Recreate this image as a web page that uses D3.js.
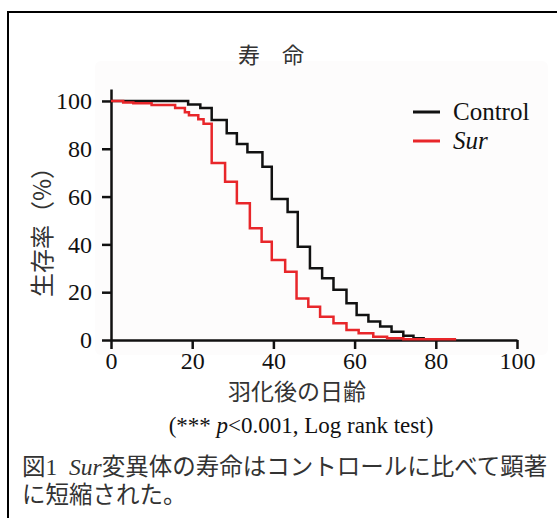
<!DOCTYPE html>
<head>
  <meta charset="utf-8">
  <script src="https://d3js.org/d3.v7.min.js"></script>
  <style>
    body { margin: 0; background: #fff; }
    svg { display: block; }
  </style>
</head>
<body>
  <svg width="557" height="518"></svg>
  <script>
    // Kaplan-Meier steps (day, % alive after the step)
    var controlDays = [0, 19, 22, 24.8, 28.5, 31, 33.6, 37.3, 39.6, 43.5, 46, 49, 52, 54.8, 58, 60.5, 63.4, 66.3, 69.1, 72, 74.5, 77];
    var controlSurv = [100, 98.5, 97, 92, 86.5, 82, 78.5, 72.5, 59, 53.5, 39, 30, 25.8, 21, 15.4, 10.5, 7.7, 5.6, 3.5, 1.8, 0.7, 0];
    var surDays = [0, 3, 5.5, 10, 15.8, 18.2, 19.2, 21.5, 22.8, 24.8, 28.1, 31, 34.2, 37.1, 39.6, 42.9, 45.7, 48.6, 51.5, 54.8, 58, 61, 64.6, 68, 72, 85];
    var surSurv = [100, 99.4, 99, 98.3, 97, 95.3, 94, 92.3, 90.5, 74, 66.2, 57.2, 46.7, 41.1, 33.5, 28.6, 17.4, 13.9, 9.7, 7, 4.2, 2.8, 1.4, 0.7, 0.3, 0.3];

    var xTicks = [0, 20, 40, 60, 80, 100];
    var yTicks = [0, 20, 40, 60, 80, 100];
    var seriesNames = ["Control", "Sur"];
    var seriesColors = ["#111", "#e8262a"];

    var svg = d3.select("svg");
    var serif = "'Liberation Serif', 'Noto Sans CJK JP', serif";
    var cjk = "'Noto Sans CJK JP', sans-serif";

    // outer frame (runs off the right and bottom)
    svg.append("rect")
      .attr("x", 8).attr("y", 12)
      .attr("width", 600).attr("height", 600)
      .attr("fill", "none").attr("stroke", "#000").attr("stroke-width", 2);

    // very faint plot panel
    svg.append("rect")
      .attr("x", 95).attr("y", 61).attr("width", 453).attr("height", 294)
      .attr("rx", 6).attr("fill", "#fdfcfc");

    var x = d3.scaleLinear().domain([0, 100]).range([111, 517]);
    var y = d3.scaleLinear().domain([0, 105]).range([340, 89]);

    var yAxis = svg.append("g")
      .attr("transform", "translate(111,0)")
      .call(d3.axisLeft(y).tickValues(yTicks).tickSize(9).tickSizeOuter(0).tickPadding(10));
    var xAxis = svg.append("g")
      .attr("transform", "translate(0,340)")
      .call(d3.axisBottom(x).tickValues(xTicks).tickSize(9).tickSizeOuter(0).tickPadding(3));

    [xAxis, yAxis].forEach(function (g) {
      g.selectAll("path, line").attr("stroke", "#111").attr("stroke-width", 2.5);
      g.selectAll("text").attr("font-family", serif).attr("font-size", 24).attr("fill", "#111");
    });

    var line = d3.line()
      .x(function (d) { return x(d[0]); })
      .y(function (d) { return y(d[1]); })
      .curve(d3.curveStepAfter);

    var controlPts = d3.zip(controlDays, controlSurv);
    var surPts = d3.zip(surDays, surSurv);

    [controlPts, surPts].forEach(function (pts, i) {
      svg.append("path")
        .datum(pts)
        .attr("d", line)
        .attr("fill", "none")
        .attr("stroke", seriesColors[i])
        .attr("stroke-width", 2.5);
    });

    // legend
    seriesNames.forEach(function (name, i) {
      var ly = 112 + i * 29;
      svg.append("line")
        .attr("x1", 413).attr("x2", 440).attr("y1", ly).attr("y2", ly)
        .attr("stroke", seriesColors[i]).attr("stroke-width", 3);
      svg.append("text")
        .attr("x", 453).attr("y", ly + 8)
        .attr("font-family", serif).attr("font-size", 25)
        .attr("font-style", i === 1 ? "italic" : "normal")
        .attr("fill", "#111")
        .text(name);
    });

    // title
    svg.append("text")
      .attr("x", 271).attr("y", 63)
      .attr("text-anchor", "middle")
      .attr("font-family", cjk).attr("font-size", 22).attr("fill", "#333")
      .text("寿\u3000命");

    // y label
    svg.append("text")
      .attr("transform", "translate(51,226) rotate(-90)")
      .attr("text-anchor", "middle")
      .attr("font-family", cjk).attr("font-size", 24).attr("fill", "#333")
      .text("生存率（%）");

    // x label
    svg.append("text")
      .attr("x", 297).attr("y", 400)
      .attr("text-anchor", "middle")
      .attr("font-family", cjk).attr("font-size", 23).attr("fill", "#333")
      .text("羽化後の日齢");

    var stat = svg.append("text")
      .attr("x", 301).attr("y", 433)
      .attr("text-anchor", "middle")
      .attr("font-family", serif).attr("font-size", 23).attr("fill", "#111");
    stat.append("tspan").text("(*** ");
    stat.append("tspan").attr("font-style", "italic").text("p");
    stat.append("tspan").text("<0.001, Log rank test)");

    // caption
    var cap = svg.append("text")
      .attr("x", 22).attr("y", 475)
      .attr("font-family", serif).attr("font-size", 23.5).attr("fill", "#333");
    cap.append("tspan").text("図1\u2002");
    cap.append("tspan").attr("font-style", "italic").text("Sur");
    cap.append("tspan").text("変異体の寿命はコントロールに比べて顕著");
    svg.append("text")
      .attr("x", 22).attr("y", 503)
      .attr("font-family", serif).attr("font-size", 23.5).attr("fill", "#333")
      .text("に短縮された。");
  </script>
</body>
